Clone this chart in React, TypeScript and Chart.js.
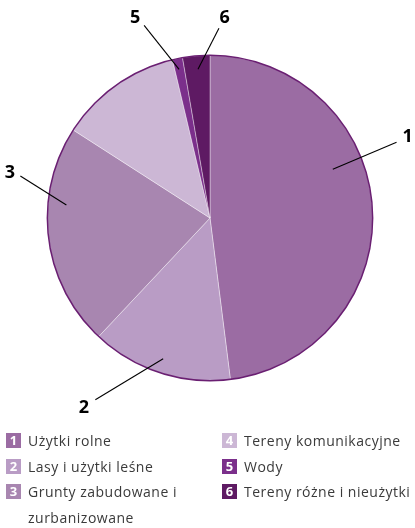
import React, { useEffect, useRef } from "react";
import { Chart, registerables } from "chart.js";

Chart.register(...registerables);

const categories = [
  "Użytki rolne",
  "Lasy i użytki leśne",
  "Grunty zabudowane i zurbanizowane",
  "Tereny komunikacyjne",
  "Wody",
  "Tereny różne i nieużytki",
];
const numbers = ["1", "2", "3", "4", "5", "6"];
const values = [48.0, 14.0, 22.1, 12.2, 1.0, 2.7];
const colors = ["#9b6ca3", "#b99cc5", "#a886b0", "#ccb7d5", "#7b2f8b", "#5e1a63"];

// callout labels: slice number, inner point and outer point (relative to center, in radius units)
const callouts = [
  { n: "1", inner: [0.755, -0.3], outer: [1.147, -0.466], text: [1.215, -0.5] },
  { n: "2", inner: [-0.288, 0.865], outer: [-0.705, 1.117], text: [-0.775, 1.17] },
  { n: "3", inner: [-0.883, -0.08], outer: [-1.166, -0.258], text: [-1.23, -0.28] },
  { n: "5", inner: [-0.19, -0.914], outer: [-0.405, -1.184], text: [-0.46, -1.23] },
  { n: "6", inner: [-0.074, -0.914], outer: [0.055, -1.166], text: [0.09, -1.23] },
];

const outlinePlugin = {
  id: "outlineAndCallouts",
  afterDatasetsDraw(chart: any) {
    const meta = chart.getDatasetMeta(0);
    const arc = meta.data[0];
    if (!arc) return;
    const { x, y, outerRadius } = arc.getProps(["x", "y", "outerRadius"], true);
    const ctx = chart.ctx;
    ctx.save();
    ctx.beginPath();
    ctx.arc(x, y, outerRadius, 0, Math.PI * 2);
    ctx.strokeStyle = "#6a1f72";
    ctx.lineWidth = 1.5;
    ctx.stroke();

    ctx.strokeStyle = "#000";
    ctx.lineWidth = 1.1;
    ctx.fillStyle = "#000";
    ctx.font = "bold 18px 'Open Sans', 'DejaVu Sans', sans-serif";
    ctx.textBaseline = "middle";
    for (const c of callouts) {
      const R = outerRadius;
      ctx.beginPath();
      ctx.moveTo(x + c.inner[0] * R, y + c.inner[1] * R);
      ctx.lineTo(x + c.outer[0] * R, y + c.outer[1] * R);
      ctx.stroke();
      ctx.textAlign = "center";
      ctx.fillText(c.n, x + c.text[0] * R, y + c.text[1] * R);
    }
    ctx.restore();
  },
};

function LegendItem({ i }: { i: number }) {
  return (
    <div style={{ display: "flex", alignItems: "flex-start" }}>
      <div
        style={{
          width: 15,
          height: 15,
          marginTop: 5,
          background: colors[i],
          color: "#fff",
          fontWeight: 700,
          fontSize: 13,
          letterSpacing: 0,
          lineHeight: "15px",
          textAlign: "center",
          flex: "0 0 15px",
        }}
      >
        {numbers[i]}
      </div>
      <div style={{ marginLeft: 7, maxWidth: 175 }}>{categories[i]}</div>
    </div>
  );
}

export default function App() {
  const ref = useRef<HTMLCanvasElement>(null);
  useEffect(() => {
    document.body.style.margin = "0";
    const chart = new Chart(ref.current!, {
      type: "pie",
      data: {
        labels: categories,
        datasets: [
          {
            data: values,
            backgroundColor: colors,
            borderColor: "rgba(255,255,255,0.55)",
            borderWidth: 0.7,
          },
        ],
      },
      options: {
        animation: false,
        responsive: false,
        events: [],
        layout: { padding: { left: 47, right: 42, top: 55, bottom: 55 } },
        plugins: { legend: { display: false }, tooltip: { enabled: false } },
      },
      plugins: [outlinePlugin],
    });
    return () => chart.destroy();
  }, []);

  return (
    <div
      style={{
        position: "relative",
        width: 415,
        height: 528,
        fontFamily: "'Open Sans', 'Noto Sans', sans-serif",
      }}
    >
      <canvas ref={ref} width={415} height={436} style={{ position: "absolute", left: 0, top: 0 }} />
      <div
        style={{
          position: "absolute",
          top: 428,
          left: 6,
          width: 409,
          display: "grid",
          gridTemplateColumns: "216px 1fr",
          gridAutoFlow: "column",
          gridTemplateRows: "auto auto auto",
          fontSize: 14,
          letterSpacing: "0.5px",
          lineHeight: "25.5px",
          color: "#3a3a3a",
        }}
      >
        {[0, 1, 2, 3, 4, 5].map((i) => (
          <LegendItem key={i} i={i} />
        ))}
      </div>
    </div>
  );
}
